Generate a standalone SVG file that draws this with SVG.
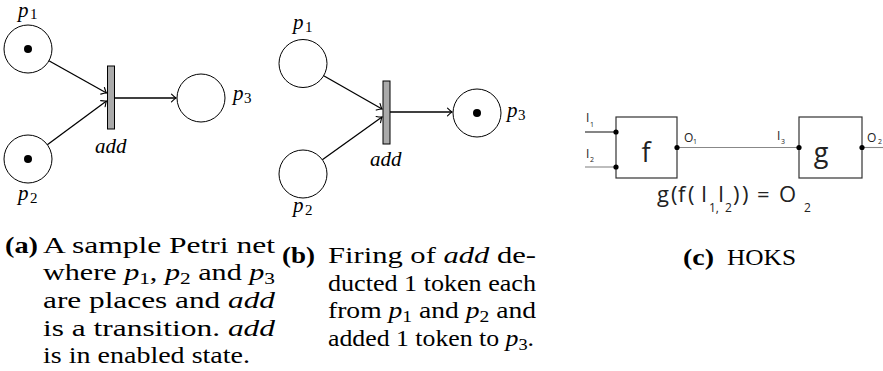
<svg xmlns="http://www.w3.org/2000/svg" width="883" height="371" viewBox="0 0 883 371">
  <defs>
    <marker id="arr" viewBox="-6 -5 8 10" markerWidth="8" markerHeight="10" refX="0" refY="0" orient="auto" markerUnits="userSpaceOnUse">
      <path d="M-4.5,-3.8 Q-1.5,-0.8 0,0 Q-1.5,0.8 -4.5,3.8" fill="none" stroke="#000" stroke-width="1.1" stroke-linecap="round"/>
    </marker>
    <style>
      .place { fill: #fff; stroke: #000; stroke-width: 1; }
      .token { fill: #000; }
      .trans { fill: #aaaaaa; stroke: #000; stroke-width: 1; }
      .arc { fill: none; stroke: #000; stroke-width: 1.3; marker-end: url(#arr); }
      .math { font-family: "Liberation Serif", serif; font-style: italic; font-size: 21px; fill: #000; }
      .sub { font-style: normal; font-size: 15px; }
      .cap { font-family: "Liberation Serif", serif; font-size: 24px; fill: #000; }
      .lbl { font-weight: bold; }
      .it { font-style: italic; }
      .csub { font-size: 17px; }
      .box { fill: #fff; stroke: #333; stroke-width: 1.2; }
      .wire { fill: none; stroke: #888; stroke-width: 1.1; }
      .wire-dark { fill: none; stroke: #222; stroke-width: 1.1; }
      .pin { fill: #000; }
      .sans { font-family: "Open Sans", "Liberation Sans", sans-serif; fill: #222; }
    </style>
  </defs>

  <!-- (a) Petri net before firing -->
  <g id="a-p1">
    <circle class="place" cx="28" cy="49" r="24"/>
    <circle class="token" cx="28" cy="49" r="4"/>
    <text class="math" x="18" y="16.5">p<tspan class="sub" x="30" y="19">1</tspan></text>
  </g>
  <g id="a-p2">
    <circle class="place" cx="28" cy="159" r="24"/>
    <circle class="token" cx="28" cy="159" r="4"/>
    <text class="math" x="18" y="200">p<tspan class="sub" x="30" y="203">2</tspan></text>
  </g>
  <g id="a-add">
    <rect class="trans" x="107.5" y="66" width="7" height="63"/>
    <text class="math" x="95" y="153">add</text>
  </g>
  <g id="a-p3">
    <circle class="place" cx="201" cy="98" r="24"/>
    <text class="math" x="233" y="100">p<tspan class="sub" x="244" y="103">3</tspan></text>
  </g>
  <g id="a-arcs">
    <line class="arc" x1="48.9" y1="60.8" x2="106.5" y2="93"/>
    <line class="arc" x1="47.3" y1="144.7" x2="106.5" y2="101"/>
    <line class="arc" x1="114.5" y1="98" x2="176" y2="98"/>
  </g>

  <!-- (b) Petri net after firing -->
  <g id="b-p1">
    <circle class="place" cx="303" cy="63.5" r="24"/>
    <text class="math" x="293" y="29">p<tspan class="sub" x="305" y="32">1</tspan></text>
  </g>
  <g id="b-p2">
    <circle class="place" cx="303" cy="174" r="24"/>
    <text class="math" x="293" y="212">p<tspan class="sub" x="305" y="215">2</tspan></text>
  </g>
  <g id="b-add">
    <rect class="trans" x="383" y="81" width="7" height="63"/>
    <text class="math" x="370" y="166">add</text>
  </g>
  <g id="b-p3">
    <circle class="place" cx="477" cy="113" r="24"/>
    <circle class="token" cx="477" cy="113" r="4"/>
    <text class="math" x="507" y="117">p<tspan class="sub" x="518" y="120">3</tspan></text>
  </g>
  <g id="b-arcs">
    <line class="arc" x1="323.7" y1="75.7" x2="382" y2="109"/>
    <line class="arc" x1="322.3" y1="159.7" x2="382" y2="117"/>
    <line class="arc" x1="390" y1="112" x2="452" y2="112"/>
  </g>

  <!-- (c) HOKS composition -->
  <g id="c-wires">
    <line class="wire-dark" x1="585" y1="132" x2="616" y2="132"/>
    <line class="wire" x1="585" y1="167" x2="616" y2="167"/>
    <line class="wire" x1="677" y1="147.5" x2="799" y2="147.5"/>
    <line class="wire" x1="862" y1="147.5" x2="883" y2="147.5"/>
  </g>
  <g id="c-f">
    <rect class="box" x="616" y="117" width="61" height="61"/>
    <circle class="pin" cx="616" cy="132" r="2.6"/>
    <circle class="pin" cx="616" cy="167" r="2.6"/>
    <circle class="pin" cx="677" cy="147.5" r="2.6"/>
    <text class="sans" x="646" y="162" font-size="27" text-anchor="middle">f</text>
    <text class="sans" x="586" y="122" font-size="12">I<tspan x="590" y="127" font-size="7">1</tspan></text>
    <text class="sans" x="586" y="158" font-size="12">I<tspan x="590" y="162" font-size="7">2</tspan></text>
    <text class="sans" x="684" y="142" font-size="12">O<tspan x="693" y="144" font-size="7">1</tspan></text>
  </g>
  <g id="c-g">
    <rect class="box" x="799" y="117" width="63" height="61"/>
    <circle class="pin" cx="799" cy="147.5" r="2.6"/>
    <circle class="pin" cx="862" cy="147.5" r="2.6"/>
    <text class="sans" x="821" y="162" font-size="27" text-anchor="middle">g</text>
    <text class="sans" x="777" y="140" font-size="12">I<tspan x="781" y="144" font-size="7">3</tspan></text>
    <text class="sans" x="867" y="142" font-size="12">O<tspan x="878" y="144" font-size="7">2</tspan></text>
  </g>
  <g id="c-formula">
    <text class="sans" font-size="22" x="657 671 678 688 701" y="202">g(f(I</text>
    <text class="sans" font-size="12" x="709" y="212">1,</text>
    <text class="sans" font-size="22" x="718" y="202">I</text>
    <text class="sans" font-size="12" x="725" y="212">2</text>
    <text class="sans" font-size="22" x="733 742 757 779" y="202">))=O</text>
    <text class="sans" font-size="12" x="804" y="212">2</text>
  </g>

  <!-- captions -->
  <g id="caption-a" class="cap">
    <text x="5" y="252.5" class="lbl" textLength="33" lengthAdjust="spacingAndGlyphs">(a)</text>
    <text x="43" y="252.5" textLength="232" lengthAdjust="spacingAndGlyphs">A sample Petri net</text>
    <text x="43" y="280.2" textLength="232" lengthAdjust="spacingAndGlyphs">where <tspan class="it">p</tspan><tspan class="csub" dy="3.5">1</tspan><tspan dy="-3.5">, </tspan><tspan class="it">p</tspan><tspan class="csub" dy="3.5">2</tspan><tspan dy="-3.5"> and </tspan><tspan class="it">p</tspan><tspan class="csub" dy="3.5">3</tspan></text>
    <text x="43" y="307.9" textLength="232" lengthAdjust="spacingAndGlyphs">are places and <tspan class="it">add</tspan></text>
    <text x="43" y="335.6" textLength="232" lengthAdjust="spacingAndGlyphs">is a transition. <tspan class="it">add</tspan></text>
    <text x="43" y="363.3" textLength="207" lengthAdjust="spacingAndGlyphs">is in enabled state.</text>
  </g>
  <g id="caption-b" class="cap">
    <text x="282" y="263" class="lbl" textLength="33" lengthAdjust="spacingAndGlyphs">(b)</text>
    <text x="328" y="263" textLength="208" lengthAdjust="spacingAndGlyphs">Firing of <tspan class="it">add</tspan> de-</text>
    <text x="328" y="290.7" textLength="208" lengthAdjust="spacingAndGlyphs">ducted 1 token each</text>
    <text x="328" y="318.4" textLength="208" lengthAdjust="spacingAndGlyphs">from <tspan class="it">p</tspan><tspan class="csub" dy="3.5">1</tspan><tspan dy="-3.5"> and </tspan><tspan class="it">p</tspan><tspan class="csub" dy="3.5">2</tspan><tspan dy="-3.5"> and</tspan></text>
    <text x="328" y="346.1" textLength="206" lengthAdjust="spacingAndGlyphs">added 1 token to <tspan class="it">p</tspan><tspan class="csub" dy="3.5">3</tspan><tspan dy="-3.5">.</tspan></text>
  </g>
  <g id="caption-c" class="cap">
    <text x="683" y="265" class="lbl" textLength="31" lengthAdjust="spacingAndGlyphs">(c)</text>
    <text x="727" y="265" textLength="69" lengthAdjust="spacingAndGlyphs">HOKS</text>
  </g>
</svg>
